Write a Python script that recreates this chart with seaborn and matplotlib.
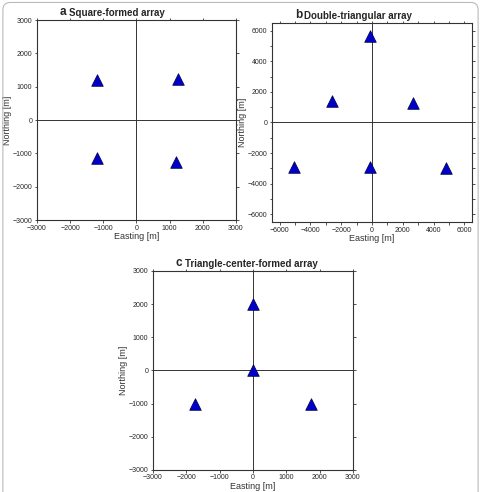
"""
三种台阵布局 — Square / Double-triangular / Triangle-center
"""
import numpy as np
import pandas as pd
import matplotlib
matplotlib.use('Agg')
import matplotlib.pyplot as plt
import seaborn as sns
from matplotlib.patches import FancyBboxPatch
from matplotlib.ticker import MultipleLocator

# 台站坐标 (m)
sq_east = [-1200, 1250, -1200, 1180]
sq_north = [1200, 1220, -1150, -1250]

dt_east = [-100, -2600, 2650, -5100, -150, 4800]
dt_north = [5650, 1400, 1300, -2900, -2900, -2950]

tc_east = [0, 0, -1730, 1730]
tc_north = [2000, 0, -1000, -1000]

letters = ['a', 'b', 'c']
titles = ['Square-formed array', 'Double-triangular array', 'Triangle-center-formed array']
limits = [3000, 6500, 3000]
major = [1000, 2000, 1000]
minor = [1000, 1000, 1000]

sns.set_style('white')
plt.rcParams['font.family'] = ['Liberation Sans', 'DejaVu Sans']

fig = plt.figure(figsize=(4.81, 4.92), dpi=100)
# 外框
fig.patches.append(FancyBboxPatch((0.006, -0.02), 0.988, 1.015, boxstyle='round,pad=0,rounding_size=0.015',
                                  transform=fig.transFigure, fill=False, ec='#bbbbbb', lw=0.8))

rects = [[0.0769, 0.5528, 0.4137, 0.4065],
         [0.5655, 0.5488, 0.4158, 0.4045],
         [0.318, 0.045, 0.4158, 0.4045]]
data = [(sq_east, sq_north), (dt_east, dt_north), (tc_east, tc_north)]

for i, rect in enumerate(rects):
    ax = fig.add_axes(rect)
    df = pd.DataFrame({'east': data[i][0], 'north': data[i][1]})
    lim = limits[i]
    ax.axhline(0, color='#333333', lw=0.7, zorder=1)
    ax.axvline(0, color='#333333', lw=0.7, zorder=1)
    sns.scatterplot(data=df, x='east', y='north', marker='^', s=70, color='#0000c8',
                    edgecolor='#000040', linewidth=0.5, ax=ax, zorder=3)
    ax.set_xlim(-lim, lim)
    ax.set_ylim(-lim, lim)
    ax.xaxis.set_major_locator(MultipleLocator(major[i]))
    ax.yaxis.set_major_locator(MultipleLocator(major[i]))
    ax.xaxis.set_minor_locator(MultipleLocator(minor[i]))
    ax.yaxis.set_minor_locator(MultipleLocator(minor[i]))
    ax.tick_params(which='both', direction='out', length=1.8, width=0.6, labelsize=5,
                   top=True, right=True, bottom=True, left=True, pad=1.5, color='#333333')
    ax.tick_params(axis='x', which='both', top=True, labeltop=False)
    ax.tick_params(axis='y', which='both', right=True, labelright=False)
    for sp in ax.spines.values():
        sp.set_color('#333333')
        sp.set_linewidth(0.8)
    ax.set_xlabel('Easting [m]', fontsize=6.5, labelpad=0.5, color='#333333')
    ax.set_ylabel('Northing [m]', fontsize=6.5, labelpad=0.5, color='#333333')
    ax.text(0.115, 1.008, letters[i], transform=ax.transAxes, fontsize=8.5,
            fontweight='bold', va='bottom', ha='left')
    ax.text(0.16, 1.008, titles[i], transform=ax.transAxes, fontsize=7,
            fontweight='bold', va='bottom', ha='left')

fig.savefig('out.png', dpi=100)
